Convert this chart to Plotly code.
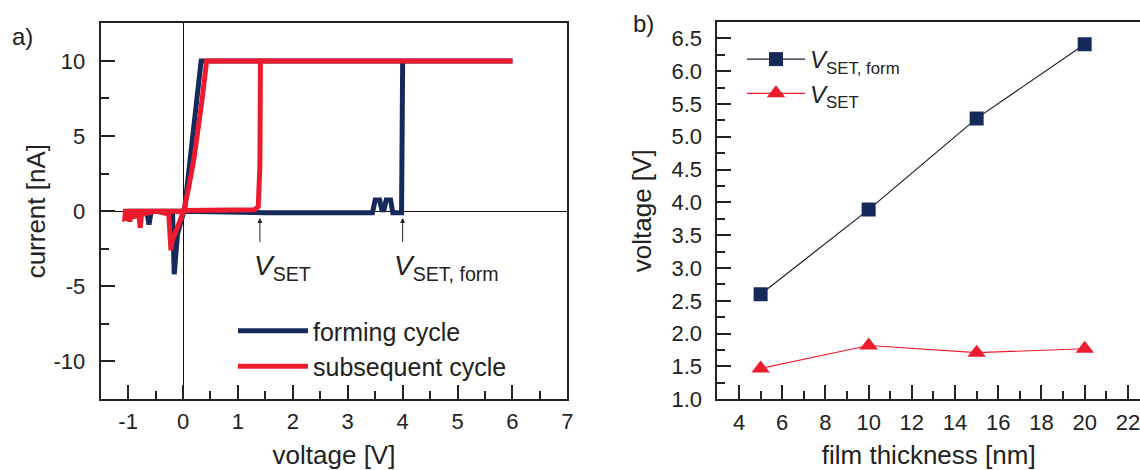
import plotly.graph_objects as go

# ---------------- data: panel a (I-V sweeps) ----------------
form_v = [0.0, 0.5, 1.0, 1.5, 2.0, 2.5, 3.0, 3.45, 3.5, 3.58, 3.62, 3.66, 3.7, 3.78, 3.82, 3.9, 3.98, 4.0,
          5.0, 6.0, 5.0, 4.0, 2.0, 1.0, 0.33, 0.03, -0.1, -0.16, -0.19, -0.3, -0.58, -0.62, -0.66, -0.8, -1.0,
          -0.5, -0.2, 0.0]
form_i = [0.0, -0.05, -0.1, -0.1, -0.1, -0.1, -0.1, -0.1, 0.75, 0.75, 0.1, 0.1, 0.75, 0.75, -0.1, -0.1, -0.1, 10.0,
          10.0, 10.0, 10.0, 10.0, 10.0, 10.0, 10.0, 0.2, -1.5, -4.2, -0.2, 0.0, 0.0, -0.9, 0.0, 0.0, 0.0,
          0.0, 0.0, 0.0]

sub_v = [0.0, 0.5, 1.0, 1.3, 1.37, 1.4, 1.41, 2.0, 4.0, 6.0, 4.0, 2.0, 0.43, 0.35, 0.27, 0.2, 0.1, 0.03,
         -0.05, -0.2, -0.22, -0.26, -0.5, -0.75, -0.78, -0.81, -0.95, -0.97, -0.99, -1.05, -1.06, -0.5, 0.0]
sub_i = [0.05, 0.05, 0.08, 0.1, 0.3, 3.0, 10.0, 10.0, 10.0, 10.0, 10.0, 10.0, 10.0, 7.5, 5.0, 3.5, 1.5, 0.3,
         -0.6, -2.0, -2.6, -0.2, 0.0, 0.0, -1.1, 0.0, 0.0, -0.7, 0.0, 0.0, -0.5, 0.0, 0.0]

x_ticks_a = [-1, 0, 1, 2, 3, 4, 5, 6, 7]
x_labels_a = ["-1", "0", "1", "2", "3", "4", "5", "6", "7"]
y_ticks_a = [-10, -5, 0, 5, 10]
y_labels_a = ["-10", "-5", "0", "5", "10"]

# ---------------- data: panel b ----------------
thickness = [5, 10, 15, 20]
vset_form = [2.6, 3.89, 5.28, 6.41]
vset = [1.47, 1.82, 1.71, 1.77]

NAVY = "#16295b"
RED = "#ec1c2e"
TXT = "#222222"
FONT = "Liberation Sans, Arial, sans-serif"

fig = go.Figure()

fig.add_trace(go.Scatter(x=form_v, y=form_i, mode="lines", name="forming cycle",
                         line=dict(color=NAVY, width=5), xaxis="x", yaxis="y", legend="legend"))
fig.add_trace(go.Scatter(x=sub_v, y=sub_i, mode="lines", name="subsequent cycle",
                         line=dict(color=RED, width=5), xaxis="x", yaxis="y", legend="legend"))

fig.add_trace(go.Scatter(x=thickness, y=vset_form, mode="lines+markers",
                         name="<i>V</i><sub>SET, form</sub>",
                         line=dict(color="#1b1b2e", width=1.2),
                         marker=dict(symbol="square", size=14, color=NAVY),
                         xaxis="x2", yaxis="y2", legend="legend2"))
fig.add_trace(go.Scatter(x=thickness, y=vset, mode="lines+markers",
                         name="<i>V</i><sub>SET</sub>",
                         line=dict(color=RED, width=1.2),
                         marker=dict(symbol="triangle-up", size=16, color=RED),
                         xaxis="x2", yaxis="y2", legend="legend2"))

minor_style = dict(ticklen=8, ticks="inside", tickcolor="#222", tickwidth=1.5)
axis_common = dict(showline=True, linecolor="#222", linewidth=2, mirror=True, showgrid=False,
                   ticks="inside", ticklen=14, tickwidth=1.5, tickcolor="#222", automargin=False,
                   ticklabeloverflow="allow",
                   tickfont=dict(size=22, color=TXT, family=FONT),
                   title_font=dict(size=26, color=TXT, family=FONT))

fig.update_layout(
    width=1140, height=470,
    margin=dict(l=0, r=0, t=0, b=0, autoexpand=False),
    paper_bgcolor="white", plot_bgcolor="white",
    font=dict(family=FONT, color=TXT),
    xaxis=dict(axis_common, domain=[0.0883, 0.4977], range=[-1.5, 7.0],
               tickvals=x_ticks_a, ticktext=x_labels_a, ticklabelstandoff=2,
               zeroline=True, zerolinecolor="#111", zerolinewidth=1,
               minor=dict(minor_style, dtick=0.5, tick0=0),
               title=dict(text="voltage [V]", standoff=18), anchor="y"),
    yaxis=dict(axis_common, domain=[0.151, 0.9504], range=[-12.5, 12.5],
               tickvals=y_ticks_a, ticktext=y_labels_a, ticklabelstandoff=9,
               zeroline=True, zerolinecolor="#111", zerolinewidth=1,
               minor=dict(minor_style, dtick=2.5, tick0=0),
               title=dict(text="current [nA]", standoff=0), anchor="x"),
    xaxis2=dict(axis_common, domain=[0.6293, 1.0], range=[3, 22.56], dtick=2, tick0=0,
                zeroline=False, ticklabelstandoff=2,
                minor=dict(minor_style, dtick=1, tick0=0),
                title=dict(text="film thickness [nm]", standoff=18), anchor="y2"),
    yaxis2=dict(axis_common, domain=[0.1504, 0.9526], range=[1.0, 6.744], dtick=0.5, tick0=0,
                tickformat=".1f", zeroline=False, mirror=False, ticklabelstandoff=9,
                minor=dict(minor_style, dtick=0.25, tick0=0),
                title=dict(text="voltage [V]", standoff=12), anchor="x2"),
    legend=dict(x=233 / 1140, y=1 - 308 / 470, xanchor="left", yanchor="top", bgcolor="rgba(0,0,0,0)",
                font=dict(size=25, color=TXT, family=FONT), itemwidth=70, tracegroupgap=0),
    legend2=dict(x=742 / 1140, y=1 - 37 / 470, xanchor="left", yanchor="top", bgcolor="rgba(0,0,0,0)",
                 font=dict(size=24, color=TXT, family=FONT), itemwidth=58, tracegroupgap=0),
    showlegend=True,
)

# arrows marking V_SET and V_SET,form
for xv in [1.4, 4.0]:
    fig.add_annotation(x=xv, y=-0.45, ax=xv, ay=-2.15, axref="x", ayref="y", xref="x", yref="y",
                       text="", showarrow=True, arrowhead=2, arrowsize=1, arrowwidth=1, arrowcolor="#222")
fig.add_annotation(x=1.25, y=-3.75, xref="x", yref="y", xanchor="left", yanchor="middle",
                   text="<i>V</i><sub>SET</sub>", showarrow=False, font=dict(size=28, color=TXT, family=FONT))
fig.add_annotation(x=3.8, y=-3.75, xref="x", yref="y", xanchor="left", yanchor="middle",
                   text="<i>V</i><sub>SET, form</sub>", showarrow=False, font=dict(size=28, color=TXT, family=FONT))

fig.add_annotation(x=10 / 1140, y=1 - 36 / 470, xref="paper", yref="paper", xanchor="left", yanchor="middle",
                   text="a)", showarrow=False, font=dict(size=24, color=TXT, family=FONT))
fig.add_annotation(x=631 / 1140, y=1 - 23 / 470, xref="paper", yref="paper", xanchor="left", yanchor="middle",
                   text="b)", showarrow=False, font=dict(size=24, color=TXT, family=FONT))

fig.write_html("out.html")
